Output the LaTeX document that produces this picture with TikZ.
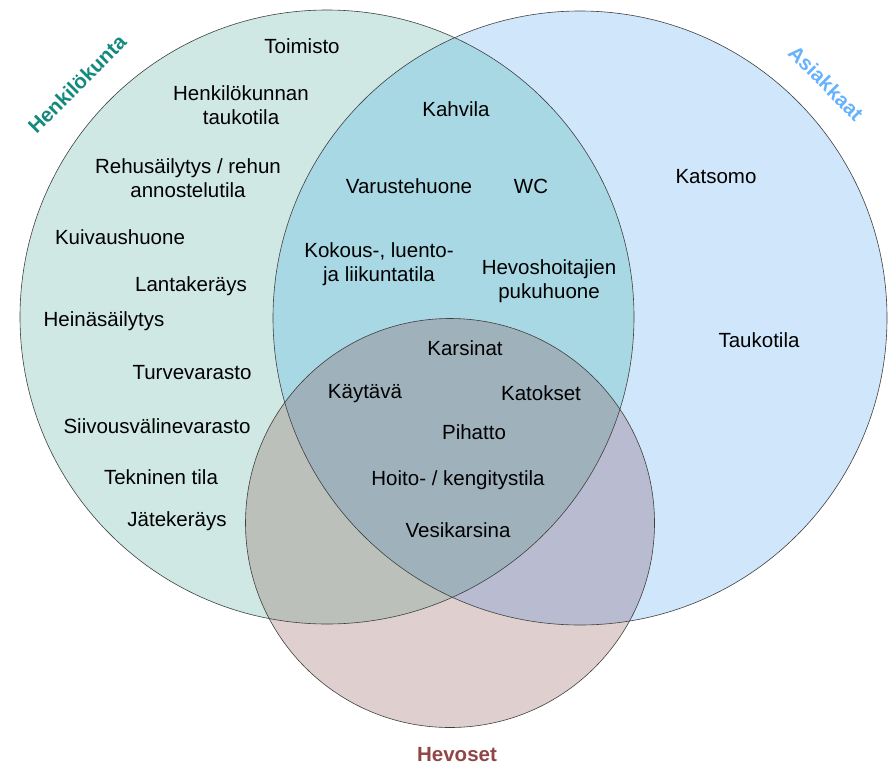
\documentclass[tikz,border=0pt]{standalone}
\usepackage{fontspec}
\setmainfont{Liberation Sans}
\definecolor{gonly}{HTML}{CFE8E3}
\definecolor{bonly}{HTML}{D0E6FA}
\definecolor{ronly}{HTML}{DFCFCF}
\definecolor{gb}{HTML}{A9D8E5}
\definecolor{gr}{HTML}{BBC0BB}
\definecolor{br}{HTML}{B9BCD0}
\definecolor{gbr}{HTML}{9FB2BC}
\definecolor{gtitle}{HTML}{138A7E}
\definecolor{btitle}{HTML}{66B2FF}
\definecolor{rtitle}{HTML}{8F4646}
\tikzset{
  lbl/.style={font=\fontsize{20.5}{24}\selectfont, align=center, inner sep=0pt, text=black},
  ttl/.style={font=\fontsize{20.5}{24}\selectfont\bfseries, inner sep=0pt},
  outline/.style={draw=black!75, line width=0.6pt}
}
\begin{document}
\begin{tikzpicture}[x=1pt,y=-1pt]
\useasboundingbox (0,0) rectangle (890,765);
\coordinate (G) at (327,317);
\coordinate (B) at (580,318);
\coordinate (R) at (450,523);
\def\rG{307pt}\def\rB{307pt}\def\rR{204.5pt}
% base fills
\fill[gonly] (G) circle[radius=\rG];
\fill[bonly] (B) circle[radius=\rB];
\fill[ronly] (R) circle[radius=\rR];
% pairwise overlaps
\begin{scope}
  \clip (G) circle[radius=\rG];
  \fill[gb] (B) circle[radius=\rB];
  \fill[gr] (R) circle[radius=\rR];
\end{scope}
\begin{scope}
  \clip (B) circle[radius=\rB];
  \fill[br] (R) circle[radius=\rR];
\end{scope}
\begin{scope}
  \clip (G) circle[radius=\rG];
  \clip (B) circle[radius=\rB];
  \fill[gbr] (R) circle[radius=\rR];
\end{scope}
% outlines
\draw[outline] (G) circle[radius=\rG];
\draw[outline] (B) circle[radius=\rB];
\draw[outline] (R) circle[radius=\rR];
% titles
\node[ttl, text=gtitle, rotate=45] (tG) at (77,84) {Henkilökunta};
\node[ttl, text=btitle, rotate=-45] (tB) at (826,83) {Asiakkaat};
\node[ttl, text=rtitle] (tR) at (457,755) {Hevoset};
% staff only
\node[lbl] (n1) at (302,46) {Toimisto};
\node[lbl] (n2) at (241,105) {Henkilökunnan\\taukotila};
\node[lbl] (n3) at (188,178) {Rehusäilytys / rehun\\annostelutila};
\node[lbl] (n4) at (120,237) {Kuivaushuone};
\node[lbl] (n5) at (191,286) {Lantakeräys};
\node[lbl] (n6) at (104,321) {Heinäsäilytys};
\node[lbl] (n7) at (192,373) {Turvevarasto};
\node[lbl] (n8) at (157,426) {Siivousvälinevarasto};
\node[lbl] (n9) at (161,477) {Tekninen tila};
\node[lbl] (n10) at (177,521) {Jätekeräys};
% staff + customers
\node[lbl] (n11) at (456,109) {Kahvila};
\node[lbl] (n12) at (409,186) {Varustehuone};
\node[lbl] (n13) at (531,186) {WC};
\node[lbl] (n14) at (379,264) {Kokous-, luento-\\ja liikuntatila};
\node[lbl] (n15) at (549,281) {Hevoshoitajien\\pukuhuone};
% customers only
\node[lbl] (n16) at (716,177) {Katsomo};
\node[lbl] (n17) at (759,340) {Taukotila};
% all three
\node[lbl] (n18) at (465,348) {Karsinat};
\node[lbl] (n19) at (365,394) {Käytävä};
\node[lbl] (n20) at (541,393) {Katokset};
\node[lbl] (n21) at (474,432) {Pihatto};
\node[lbl] (n22) at (458,480) {Hoito- / kengitystila};
\node[lbl] (n23) at (458,530) {Vesikarsina};
\end{tikzpicture}
\end{document}
